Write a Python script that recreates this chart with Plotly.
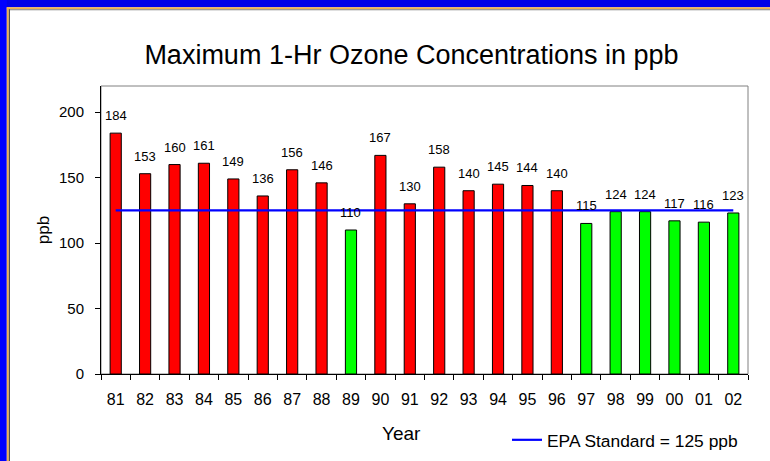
import plotly.graph_objects as go

years = ["81", "82", "83", "84", "85", "86", "87", "88", "89", "90", "91",
         "92", "93", "94", "95", "96", "97", "98", "99", "00", "01", "02"]
ozone = [184, 153, 160, 161, 149, 136, 156, 146, 110, 167, 130,
         158, 140, 145, 144, 140, 115, 124, 124, 117, 116, 123]
epa_standard = 125
bar_colors = ["#FF0000" if v > epa_standard else "#00FF00" for v in ozone]

W, H = 770, 461
ML, MR, MT, MB = 101, 22, 86, 87
PW, PH = W - ML - MR, H - MT - MB


def px_x(p):
    return (p - ML) / PW


def px_y(p):
    return (H - MB - p) / PH


FONT = "Liberation Sans, Arial, sans-serif"

fig = go.Figure()
fig.add_trace(go.Bar(
    x=years, y=ozone, marker=dict(color=bar_colors, line=dict(color="black", width=1)),
    width=0.38, showlegend=False, hoverinfo="x+y",
))
fig.add_trace(go.Scatter(
    x=years, y=[epa_standard] * len(years), mode="lines",
    line=dict(color="#0000FF", width=2.2),
    name="EPA Standard = 125 ppb", showlegend=True,
))

annotations = []
for i, v in enumerate(ozone):
    annotations.append(dict(
        x=i, y=v, text=str(v), showarrow=False, xref="x", yref="y",
        yanchor="bottom", yshift=8, font=dict(family=FONT, size=13, color="black"),
    ))
annotations.append(dict(
    x=px_x(401), y=px_y(433), xref="paper", yref="paper", text="Year",
    showarrow=False, xanchor="center", yanchor="middle",
    font=dict(family=FONT, size=19, color="black"),
))

shapes = [
    dict(type="rect", xref="x domain", yref="y domain", x0=0, x1=1, y0=0, y1=1,
         line=dict(color="#808080", width=1), layer="below"),
    dict(type="rect", xref="paper", yref="paper", x0=px_x(0), x1=px_x(W), y0=px_y(0), y1=px_y(7.3),
         fillcolor="#0000E8", line=dict(width=0)),
    dict(type="rect", xref="paper", yref="paper", x0=px_x(0), x1=px_x(6.8), y0=px_y(0), y1=px_y(H),
         fillcolor="#0000FF", line=dict(width=0)),
    dict(type="rect", xref="paper", yref="paper", x0=px_x(6.8), x1=px_x(W), y0=px_y(7.3), y1=px_y(9.2),
         fillcolor="#F0B050", line=dict(width=0)),
    dict(type="rect", xref="paper", yref="paper", x0=px_x(6.8), x1=px_x(8.8), y0=px_y(7.3), y1=px_y(H),
         fillcolor="#F0B050", line=dict(width=0)),
    dict(type="rect", xref="paper", yref="paper", x0=px_x(8.8), x1=px_x(W), y0=px_y(9.2), y1=px_y(10.2),
         fillcolor="#808080", line=dict(width=0)),
    dict(type="rect", xref="paper", yref="paper", x0=px_x(8.8), x1=px_x(10), y0=px_y(9.2), y1=px_y(H),
         fillcolor="#505050", line=dict(width=0)),
]

fig.update_layout(
    width=W, height=H,
    margin=dict(l=ML, r=MR, t=MT, b=MB, pad=0, autoexpand=False),
    paper_bgcolor="white", plot_bgcolor="white",
    font=dict(family=FONT, color="black"),
    title=dict(text="Maximum 1-Hr Ozone Concentrations in ppb",
               x=px_x(411.5), xref="paper", xanchor="center",
               y=1 - 55 / H, yref="container", yanchor="middle",
               font=dict(family=FONT, size=27, color="black")),
    xaxis=dict(
        type="category", categoryorder="array", categoryarray=years,
        range=[-0.5, len(years) - 0.5], tickangle=0, automargin=False,
        showline=True, linecolor="black", linewidth=1,
        ticks="outside", ticklen=5, tickcolor="black", tickson="boundaries",
        tickfont=dict(family=FONT, size=16, color="black"), ticklabelstandoff=11,
        showgrid=False, zeroline=False,
    ),
    yaxis=dict(
        range=[0, 220], tickvals=[0, 50, 100, 150, 200], automargin=False,
        showline=True, linecolor="black", linewidth=1,
        ticks="outside", ticklen=5, tickcolor="black",
        tickfont=dict(family=FONT, size=15, color="black"), ticklabelstandoff=8,
        showgrid=False, zeroline=False,
        title=dict(text="ppb", font=dict(family=FONT, size=17, color="black"), standoff=5),
    ),
    legend=dict(x=px_x(507), y=px_y(440), xanchor="left", yanchor="middle",
                xref="paper", yref="paper",
                font=dict(family=FONT, size=17.4, color="black"),
                bgcolor="rgba(0,0,0,0)", borderwidth=0),
    annotations=annotations,
    shapes=shapes,
    bargap=0.6,
)

fig.write_html(
    "out.html",
    config={"displayModeBar": False},
    post_script="document.body.style.margin='0';document.body.style.overflow='hidden';",
)
